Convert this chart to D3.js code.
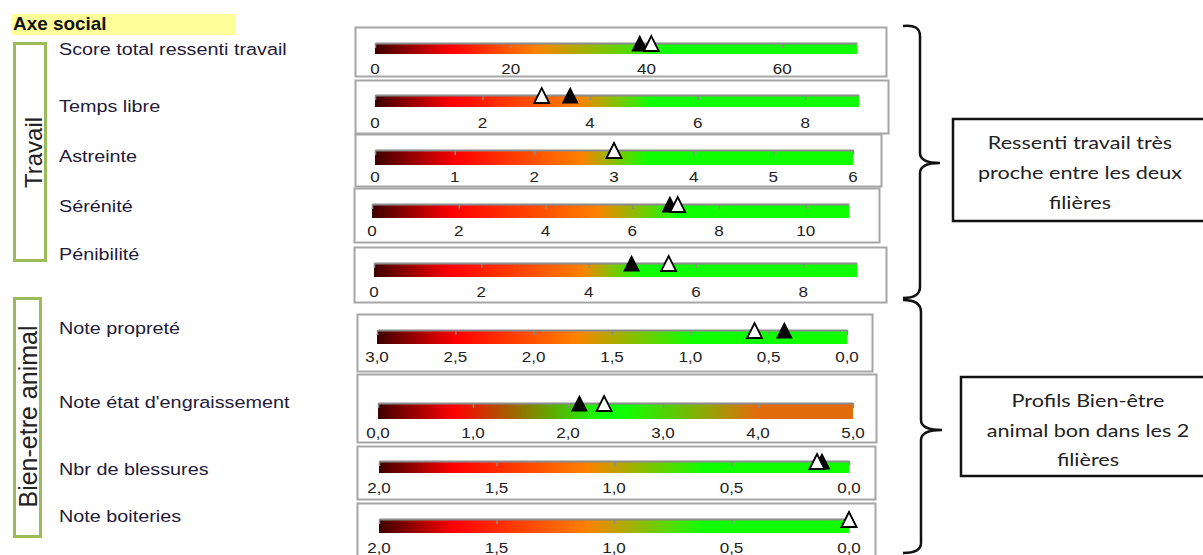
<!DOCTYPE html>
<html><head><meta charset="utf-8">
<script src="https://cdn.jsdelivr.net/npm/d3@7"></script>
<style>body{margin:0;background:#fff}svg{display:block}</style>
</head><body>
<svg id="chart" width="1203" height="555"></svg>
<script>
// ---------- DATA ----------
const title = "Axe social";
const indicatorLabels = ["Score total ressenti travail","Temps libre","Astreinte","Sérénité","Pénibilité",
  "Note propreté","Note état d'engraissement","Nbr de blessures","Note boiteries"];
const domainStart = [0,0,0,0,0,3,0,2,2];
const domainEnd   = [71,9,6,11,9,0,5,0,0];
const tickStep    = [20,2,1,2,2,0.5,1,0.5,0.5];
const tickDecimals= [0,0,0,0,0,1,1,1,1];
const blackValues = [39.0,3.63,3.0,6.87,4.8,0.40,2.12,0.115,0.0];
const whiteValues = [40.7,3.1,3.0,7.05,5.49,0.59,2.38,0.136,0.0];
const groupNames  = ["Travail","Bien-etre animal"];
const commentLines = [["Ressenti travail très","proche entre les deux","filières"],
                      ["Profils Bien-être","animal bon dans les 2","filières"]];

// ---------- LAYOUT / STYLE ----------
const layout = [
 {box:[355,27,531,49],  bar:[375,857,43,11], lab:74,  text:55},
 {box:[355,80,533,53],  bar:[375,859,95,12], lab:128, text:112},
 {box:[355,134,526,52], bar:[375,853,150,15],lab:182, text:162},
 {box:[354,188,525,54], bar:[372,849,204,14],lab:236, text:212},
 {box:[354,247,532,55], bar:[374,857,263,14],lab:297, text:260},
 {box:[357,314,515,57], bar:[377,847,330,14],lab:362, text:334},
 {box:[357,374,519,68], bar:[378,853,403,16],lab:438, text:408},
 {box:[357,446,518,53], bar:[379,849,461,12],lab:493, text:475},
 {box:[357,503,518,62], bar:[379,849,519,14],lab:553, text:522}
];
const C = {d:"#3e0000", r:"#ff0000", o:"#ff8000", g:"#10ff00", o2:"#e36c0a"};
function std(a,b,c){return [[0,C.d],[a,C.r],[b,C.o],[c,C.g],[1,C.g]];}
const gradients = [
  std(0.16,0.33,0.60), std(0.16,0.42,0.57), std(0.17,0.43,0.57), std(0.17,0.47,0.64),
  std(0.16,0.43,0.55), std(0.17,0.42,0.67),
  [[0,C.d],[0.16,C.r],[0.47,C.g],[0.52,C.g],[0.80,C.o2],[1,C.o2]],
  std(0.16,0.44,0.69), std(0.16,0.44,0.69)
];

const svg = d3.select("#chart");
const defs = svg.append("defs");
const fr = d3.formatLocale({decimal:",",thousands:" ",grouping:[3],currency:["","€"]});

// title
svg.append("rect").attr("x",12).attr("y",14).attr("width",224).attr("height",21).attr("fill","#ffff99");
svg.append("text").attr("transform","translate(13,29.5) scale(1.05,1)")
  .attr("font-family","Liberation Sans, Arial, sans-serif").attr("font-weight","bold")
  .attr("font-size",18).attr("fill","#111").text(title);

// group frames
const frames = [{x:14.5,y:43.5,w:31,h:217,tx:42,ty:152.5,fs:24},{x:14.5,y:298.5,w:26,h:238,tx:37,ty:416.5,fs:25}];
frames.forEach((f,i)=>{
  svg.append("rect").attr("x",f.x).attr("y",f.y).attr("width",f.w).attr("height",f.h)
    .attr("fill","none").attr("stroke","#9bbb59").attr("stroke-width",3);
  svg.append("text").attr("transform",`translate(${f.tx},${f.ty}) rotate(-90)`)
    .attr("text-anchor","middle").attr("font-family","Liberation Sans, Arial, sans-serif")
    .attr("font-size",f.fs).attr("fill","#222").text(groupNames[i]);
});

// indicator labels
svg.selectAll("text.lab").data(indicatorLabels).join("text").attr("class","lab")
  .attr("transform",(d,i)=>`translate(59,${layout[i].text}) scale(1.2,1)`)
  .attr("font-family","Liberation Sans, Arial, sans-serif").attr("font-size",16.5)
  .attr("fill","#231a38").text(d=>d);

// gauges
indicatorLabels.forEach((name,i)=>{
  const L = layout[i];
  const g = svg.append("g");
  g.append("rect").attr("x",L.box[0]+0.5).attr("y",L.box[1]+0.5).attr("width",L.box[2]).attr("height",L.box[3])
    .attr("fill","#fff").attr("stroke","#a6a6a6").attr("stroke-width",2);
  const x = d3.scaleLinear().domain([domainStart[i],domainEnd[i]]).range([L.bar[0],L.bar[1]]);
  const gid = "grad"+i;
  const lg = defs.append("linearGradient").attr("id",gid).attr("x1","0%").attr("x2","100%").attr("y1","0%").attr("y2","0%");
  gradients[i].forEach(s=>lg.append("stop").attr("offset",(s[0]*100)+"%").attr("stop-color",s[1]));
  const bx = x.range();
  g.append("rect").attr("x",bx[0]).attr("y",L.bar[2]).attr("width",bx[1]-bx[0]).attr("height",L.bar[3])
    .attr("fill",`url(#${gid})`);
  const lo = Math.min(domainStart[i],domainEnd[i]), hi = Math.max(domainStart[i],domainEnd[i]);
  const ticks = d3.range(lo, hi+1e-9, tickStep[i]).map(v=>+v.toFixed(3));
  // ticks on top of bar
  const ax = d3.axisBottom(x).tickValues(ticks).tickSize(5).tickSizeOuter(0).tickFormat("");
  const axg = g.append("g").attr("transform",`translate(0,${L.bar[2]})`).call(ax);
  axg.select(".domain").attr("stroke","#8c8c8c").attr("stroke-width",2);
  axg.selectAll(".tick line").attr("stroke","#8c8c8c").attr("stroke-width",1.5);
  // tick labels
  const fmt = tickDecimals[i] ? fr.format(".1f") : fr.format("d");
  g.selectAll("text.tl").data(ticks).join("text").attr("class","tl")
    .attr("transform",d=>`translate(${x(d)},${L.lab}) scale(1.1,1)`)
    .attr("text-anchor","middle").attr("font-family","Liberation Sans, Arial, sans-serif")
    .attr("font-size",15.5).attr("fill","#222").text(d=>fmt(d));
  // markers
  const base = L.bar[2]+8, hgt = 15, half = 7.5;
  const tri = v => `M${x(v)-half},${base}L${x(v)},${base-hgt}L${x(v)+half},${base}Z`;
  g.append("path").attr("d",tri(blackValues[i])).attr("fill","#000").attr("stroke","#000").attr("stroke-width",1.2);
  g.append("path").attr("d",tri(whiteValues[i])).attr("fill","#fff").attr("stroke","#000").attr("stroke-width",1.8)
    .attr("stroke-linejoin","miter");
});

// braces
const braces = [
  "M903,26 Q920,24 920,36 L920,153 Q920,163 940,163 Q920,163 920,173 L920,287 Q920,298 903,298",
  "M903,300 Q921,300 921,312 L921,420 Q921,430 942,430 Q921,430 921,440 L921,543 Q921,553 903,553"
];
svg.selectAll("path.brace").data(braces).join("path").attr("class","brace").attr("d",d=>d)
  .attr("fill","none").attr("stroke","#111").attr("stroke-width",2.5);

// comment boxes
const cboxes = [{x:953,y:119,w:262,h:102,cx:1080,ys:[149,179,209]},{x:961,y:377,w:254,h:99,cx:1088,ys:[407,437,466]}];
cboxes.forEach((b,i)=>{
  svg.append("rect").attr("x",b.x).attr("y",b.y).attr("width",b.w).attr("height",b.h)
    .attr("fill","#fff").attr("stroke","#111").attr("stroke-width",2.5);
  commentLines[i].forEach((t,j)=>{
    svg.append("text").attr("transform",`translate(${b.cx},${b.ys[j]}) scale(1.2,1)`)
      .attr("text-anchor","middle").attr("font-family","Lato, sans-serif").attr("font-size",18)
      .attr("fill","#222").text(t);
  });
});
</script>
</body></html>
